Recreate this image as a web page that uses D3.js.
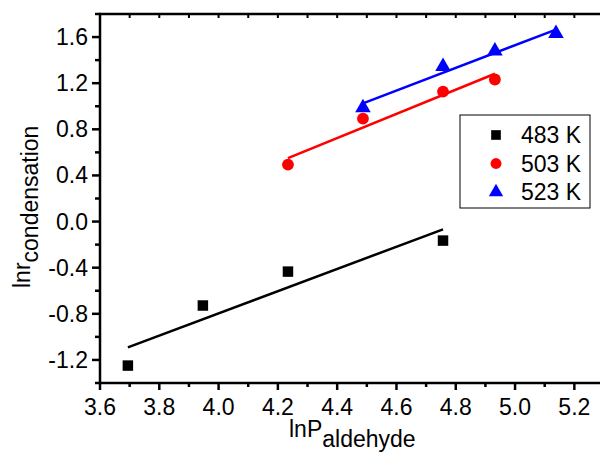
<!DOCTYPE html>
<html><head><meta charset="utf-8">
<script src="https://cdn.jsdelivr.net/npm/d3@7"></script>
<style>
body{margin:0;background:#fff;}
text{font-family:"Liberation Sans",Arial,sans-serif;}
</style></head>
<body>
<svg id="c" width="600" height="452"></svg>
<script>
const seriesNames = ["483 K", "503 K", "523 K"];
const seriesColors = ["#000000", "#ff0000", "#0000ff"];
const x483 = [3.694, 3.947, 4.234, 4.757];
const y483 = [-1.249, -0.728, -0.434, -0.165];
const x503 = [4.234, 4.487, 4.757, 4.932];
const y503 = [0.494, 0.893, 1.127, 1.232];
const x523 = [4.487, 4.757, 4.932, 5.138];
const y523 = [0.988, 1.345, 1.48, 1.63];
const xTicks = [3.6, 3.8, 4.0, 4.2, 4.4, 4.6, 4.8, 5.0, 5.2];
const yTicks = [-1.2, -0.8, -0.4, 0.0, 0.4, 0.8, 1.2, 1.6];

const svg = d3.select("#c");
const x = d3.scaleLinear().domain([3.6, 5.3]).range([100, 604]);
const y = d3.scaleLinear().domain([-1.4, 1.8]).range([383, 14]);
const FS = 23;

const series = [
  {name: seriesNames[0], color: seriesColors[0], xs: x483, ys: y483, sym: d3.symbolSquare, size: 110},
  {name: seriesNames[1], color: seriesColors[1], xs: x503, ys: y503, sym: d3.symbolCircle, size: 110},
  {name: seriesNames[2], color: seriesColors[2], xs: x523, ys: y523, sym: d3.symbolTriangle, size: 105}
];

const ax = svg.append("g");
const minorX = d3.range(36, 54).map(v => v / 10);
ax.selectAll(".bt").data(minorX).join("line")
  .attr("x1", d => x(d)).attr("x2", d => x(d))
  .attr("y1", 383).attr("y2", d => (Math.round(d * 10) % 2 === 0) ? 390 : 387)
  .attr("stroke", "#000").attr("stroke-width", 2.5);
ax.selectAll(".tt").data(minorX).join("line")
  .attr("x1", d => x(d)).attr("x2", d => x(d))
  .attr("y1", 14).attr("y2", 18)
  .attr("stroke", "#000").attr("stroke-width", 2);
const minorY = d3.range(-14, 19, 2).map(v => v / 10);
ax.selectAll(".lt").data(minorY).join("line")
  .attr("y1", d => y(d)).attr("y2", d => y(d))
  .attr("x1", 100).attr("x2", d => (Math.round(d * 10) % 4 === 0) ? 92 : 95)
  .attr("stroke", "#000").attr("stroke-width", 2.5);

ax.append("rect").attr("x", x(3.6)).attr("y", y(1.8))
  .attr("width", x(5.3) - x(3.6)).attr("height", y(-1.4) - y(1.8))
  .attr("fill", "none").attr("stroke", "#000").attr("stroke-width", 2.5);

ax.selectAll(".xl").data(xTicks).join("text")
  .attr("x", d => x(d)).attr("y", 415).attr("text-anchor", "middle")
  .attr("font-size", FS).text(d => d.toFixed(1));
ax.selectAll(".yl").data(yTicks).join("text")
  .attr("x", 88).attr("y", d => y(d) + 8).attr("text-anchor", "end")
  .attr("font-size", FS).text(d => d.toFixed(1));

const xt = svg.append("text").attr("x", 289).attr("y", 437).attr("font-size", FS);
xt.append("tspan").text("lnP");
xt.append("tspan").attr("dy", 10).text("aldehyde");

const yt = svg.append("text").attr("transform", "translate(30,288) rotate(-90)").attr("font-size", FS);
yt.append("tspan").text("lnr");
yt.append("tspan").attr("dy", 8).text("condensation");

series.forEach(s => {
  const n = s.xs.length;
  const mx = d3.mean(s.xs), my = d3.mean(s.ys);
  let sxy = 0, sxx = 0;
  for (let i = 0; i < n; i++) { sxy += (s.xs[i] - mx) * (s.ys[i] - my); sxx += (s.xs[i] - mx) ** 2; }
  const b = sxy / sxx, a = my - b * mx;
  const x0 = d3.min(s.xs), x1 = d3.max(s.xs);
  svg.append("line")
    .attr("x1", x(x0)).attr("y1", y(a + b * x0))
    .attr("x2", x(x1)).attr("y2", y(a + b * x1))
    .attr("stroke", s.color).attr("stroke-width", 2.5);
});

series.forEach(s => {
  const sym = d3.symbol().type(s.sym).size(s.size);
  svg.append("g").selectAll("path").data(s.xs.map((v, i) => [v, s.ys[i]])).join("path")
    .attr("d", sym)
    .attr("transform", d => `translate(${x(d[0])},${y(d[1])})`)
    .attr("fill", s.color);
});

const lg = svg.append("g");
lg.append("rect").attr("x", 460).attr("y", 115).attr("width", 130).attr("height", 93)
  .attr("fill", "#fff").attr("stroke", "#000").attr("stroke-width", 1);
series.forEach((s, i) => {
  const cy = 135 + i * 28.5;
  lg.append("path").attr("d", d3.symbol().type(s.sym).size(s.size * 0.85)())
    .attr("transform", `translate(496,${cy})`).attr("fill", s.color);
  lg.append("text").attr("x", 521).attr("y", cy + 8).attr("font-size", FS).text(s.name);
});
</script>
</body></html>
